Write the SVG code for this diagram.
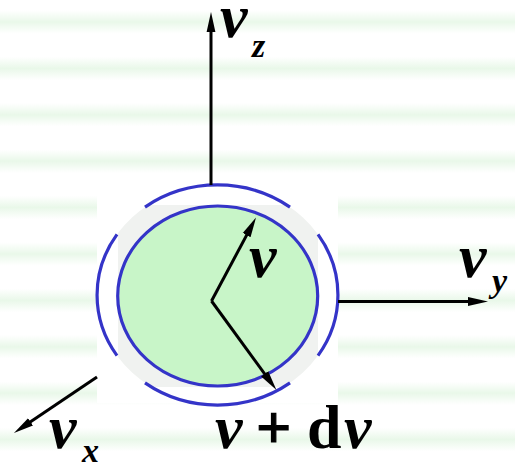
<svg xmlns="http://www.w3.org/2000/svg" width="515" height="468" viewBox="0 0 515 468">
  <defs>
    <linearGradient id="stripeGrad" x1="0" y1="0" x2="0" y2="1">
      <stop offset="0" stop-color="#ffffff"/>
      <stop offset="0.25" stop-color="#ffffff"/>
      <stop offset="0.5" stop-color="#e9f8e9"/>
      <stop offset="0.75" stop-color="#ffffff"/>
      <stop offset="1" stop-color="#ffffff"/>
    </linearGradient>
    <pattern id="stripes" patternUnits="userSpaceOnUse" x="0" y="-1.2" width="515" height="46.4">
      <rect x="0" y="0" width="515" height="46.4" fill="url(#stripeGrad)"/>
    </pattern>
    <clipPath id="ringClip">
      <rect x="118" y="205" width="200" height="182"/>
    </clipPath>
    <marker id="arrow" markerUnits="userSpaceOnUse" markerWidth="20" markerHeight="10" refX="8" refY="5" orient="auto">
      <path d="M0,0.6 L20,5 L0,9.4 z" fill="#000"/>
    </marker>
  </defs>
  <style>
    .axis { stroke: #000; stroke-width: 3; fill: none; marker-end: url(#arrow); }
    .ring { stroke: #3434c8; stroke-width: 3.2; fill: none; }
    .lbl { font-family: "Liberation Serif", "Times New Roman", serif; font-weight: bold; font-style: italic; fill: #000; }
    .main { font-size: 62px; }
    .sub { font-size: 34px; }
    .up { font-style: normal; }
    .plus { stroke: #000; stroke-width: 1.2; }
  </style>

  <rect id="background" x="0" y="0" width="515" height="468" fill="url(#stripes)"/>
  <rect id="backdrop" x="97" y="183" width="241" height="220" fill="#ffffff"/>

  <g id="sphere">
    <ellipse cx="217.5" cy="295" rx="120.5" ry="110" fill="#f0f2f0" clip-path="url(#ringClip)"/>
    <path class="ring" d="M145,207.1 A120.5,110 0 0 1 290,207.1"/>
    <path class="ring" d="M318,234.4 A120.5,110 0 0 1 318,355.6"/>
    <path class="ring" d="M290,382.9 A120.5,110 0 0 1 145,382.9"/>
    <path class="ring" d="M117,355.6 A120.5,110 0 0 1 117,234.4"/>
    <ellipse cx="217.7" cy="296" rx="100" ry="90" fill="#c8f5c8" stroke="#3434c8" stroke-width="3.2"/>
  </g>

  <g id="connectors">
    <line class="axis" x1="211" y1="185" x2="211" y2="24"/>
    <line class="axis" x1="338" y1="301.5" x2="476" y2="301.5"/>
    <line class="axis" x1="97" y1="377" x2="23.9" y2="426.3"/>
    <line class="axis" x1="211.5" y1="301" x2="250.4" y2="228.1"/>
    <line class="axis" x1="211.5" y1="301" x2="269.4" y2="380.3"/>
  </g>

  <g id="label-vz">
    <text class="lbl main" x="220" y="37">v</text>
    <text class="lbl sub" x="252" y="57">z</text>
  </g>
  <g id="label-vy">
    <text class="lbl main" x="459" y="277">v</text>
    <text class="lbl sub" x="492" y="292">y</text>
  </g>
  <g id="label-vx">
    <text class="lbl main" x="49" y="448">v</text>
    <text class="lbl sub" x="82" y="462">x</text>
  </g>
  <g id="label-v">
    <text class="lbl main" x="249" y="277">v</text>
  </g>
  <g id="label-vdv">
    <text class="lbl main" x="215" y="448">v</text>
    <text class="lbl main up plus" x="256" y="448">+</text>
    <text class="lbl main up" x="307" y="448">d</text>
    <text class="lbl main" x="344" y="448">v</text>
  </g>
</svg>
